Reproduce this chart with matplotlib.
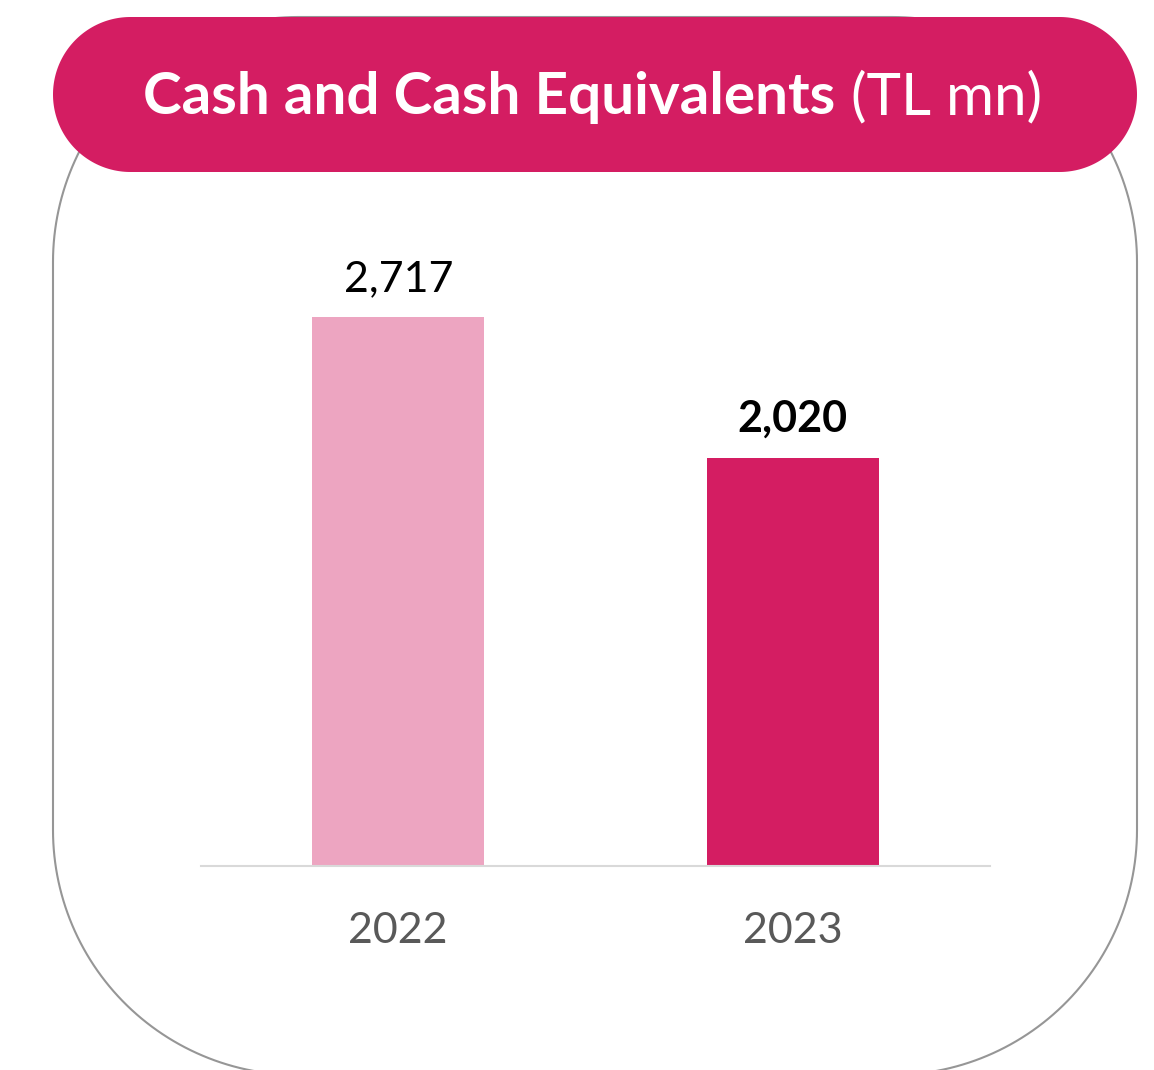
import matplotlib as mpl
import matplotlib.pyplot as plt
import numpy as np
from matplotlib.patches import Polygon

mpl.rcParams['font.family'] = ['Lato', 'DejaVu Sans']

years = ['2022', '2023']
values = [2717, 2020]
labels = ['2,717', '2,020']
bar_colors = ['#EDA5C1', '#D41D62']
label_weights = ['normal', 'bold']

W, H = 1154, 1070


def rounded_rect(x0, y0, x1, y1, r, n=60):
    # corners with true circular arcs (pixel coords, y down)
    pts = []
    for cx, cy, a0 in [(x1 - r, y0 + r, -90), (x1 - r, y1 - r, 0),
                       (x0 + r, y1 - r, 90), (x0 + r, y0 + r, 180)]:
        t = np.radians(np.linspace(a0, a0 + 90, n))
        pts += list(zip(cx + r * np.cos(t), cy + r * np.sin(t)))
    return np.array(pts)


fig = plt.figure(figsize=(W / 100, H / 100), dpi=100)

# background layer in pixel coords
bg = fig.add_axes([0, 0, 1, 1])
bg.set_xlim(0, W)
bg.set_ylim(H, 0)
bg.axis('off')

bg.add_patch(Polygon(rounded_rect(53, 17, 1137, 1075, 245), closed=True,
                     facecolor='white', edgecolor='#969696', linewidth=1.5))
bg.add_patch(Polygon(rounded_rect(53, 17, 1137, 172, 77.5), closed=True,
                     facecolor='#D41D62', edgecolor='none'))

t1 = bg.text(143, 98, 'Cash and Cash Equivalents', color='white', fontsize=42,
             fontweight='bold', va='center', ha='left')
fig.canvas.draw()
bb = t1.get_window_extent()
bg.text(143 + bb.width + 16, 98, '(TL mn)', color='white', fontsize=42,
        fontweight='normal', va='center', ha='left')

# chart
ax = fig.add_axes([201 / W, 1 - 866 / H, 789 / W, 606 / H])
ax.patch.set_alpha(0)
x = range(len(years))
bars = ax.bar(x, values, width=0.435, color=bar_colors)
ax.set_xlim(-0.5, 1.5)
ax.set_ylim(0, 3000)
for s in ['top', 'right', 'left']:
    ax.spines[s].set_visible(False)
ax.spines['bottom'].set_color('#D9D9D9')
ax.spines['bottom'].set_linewidth(1.5)
ax.set_yticks([])
ax.set_xticks(list(x))
ax.set_xticklabels(years, fontsize=31, color='#595959')
ax.tick_params(axis='x', length=0, pad=33)

for xi, v, lab, w in zip(x, values, labels, label_weights):
    ax.annotate(lab, (xi, v), xytext=(0, 14), textcoords='offset points',
                ha='center', va='bottom', fontsize=31, fontweight=w, color='black')

fig.savefig('out.png', dpi=100)
